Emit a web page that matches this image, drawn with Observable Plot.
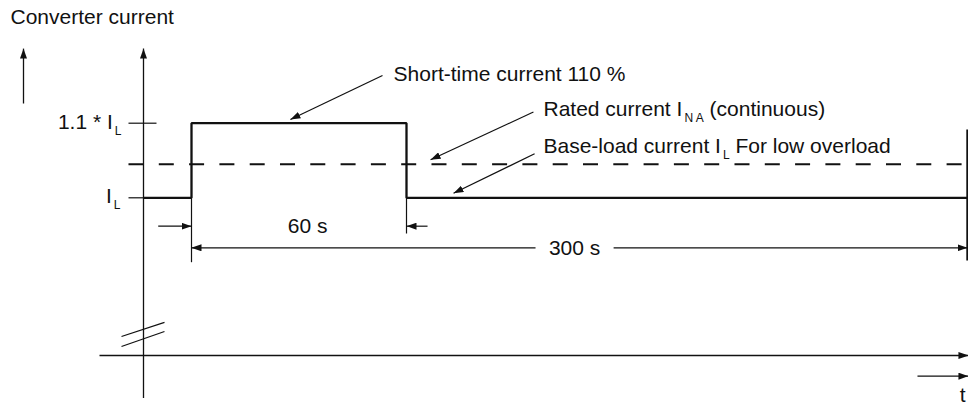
<!DOCTYPE html>
<html>
<head>
<meta charset="utf-8">
<script src="https://cdn.jsdelivr.net/npm/d3@7"></script>
<script src="https://cdn.jsdelivr.net/npm/@observablehq/plot@0.6"></script>
<style>
  html, body { margin: 0; padding: 0; background: #fff; }
  #chart { width: 968px; height: 406px; overflow: hidden; }
</style>
</head>
<body>
<div id="chart"></div>
<script>
// ---------- data (schematic, not to scale; time in s, current in multiples of I_L) ----------
const title = "Converter current";
const timeLabel = "t";

// reference levels on the current axis
const levelLabels = ["I_{L}", "1.1 * I_{L}"];
const levelValues = [1, 1.1];
const ratedValue = 1.045;              // rated current I_NA (dashed)

// load cycle profile
const profileT = [-15, 0, 0, 60, 60, 300];
const profileI = [1, 1, 1.1, 1.1, 1, 1];

// dimensioning
const dimLabels = ["60 s", "300 s"];
const dimFrom = [0, 0];
const dimTo = [60, 300];

// annotations
const noteTexts = [
  "Short-time current 110 %",
  "Rated current I_{N A} (continuous)",
  "Base-load current I_{L} For low overload"
];
const noteT = [56.4, 118.6, 118.6];
const noteI = [1.157, 1.109, 1.060];
const leaderFromT = [53.3, 114.3, 114.8];
const leaderFromI = [1.164, 1.115, 1.059];
const leaderToT = [27.6, 70.3, 80.1];
const leaderToI = [1.105, 1.051, 1.006];

// ---------- drawing ----------
const ink = "#111";
const font = "'Liberation Sans', Arial, Helvetica, sans-serif";

function head(color) {
  const m = d3.create("svg:marker")
    .attr("viewBox", "-10 -3.5 10 7")
    .attr("markerWidth", 10)
    .attr("markerHeight", 7)
    .attr("markerUnits", "userSpaceOnUse")
    .attr("orient", "auto")
    .attr("refX", 0)
    .attr("refY", 0)
    .attr("fill", color)
    .attr("stroke", "none");
  m.append("path").attr("d", "M0,0L-10,-3.5L-10,3.5Z");
  return m.node();
}

const yAxisT = profileT[0];
const profile = profileT.map((t, i) => ({t, i: profileI[i]}));

// helper link mark from arrays
function seg(x1, y1, x2, y2, opts) {
  return Plot.link(d3.range(x1.length), {
    x1: k => x1[k], y1: k => y1[k], x2: k => x2[k], y2: k => y2[k],
    stroke: ink, strokeLinecap: "butt", ...opts
  });
}

const plot = Plot.plot({
  width: 968,
  height: 406,
  margin: 0,
  style: {fontFamily: font, fontSize: "21px", color: ink, background: "#fff"},
  x: {type: "linear", domain: [-15, 0, 60, 300], range: [143, 191, 406, 967], axis: null},
  y: {type: "linear", domain: [0, 1, 1.1], range: [355, 197.3, 122.7], axis: null},
  marks: [
    // title and its arrow
    Plot.text([title], {x: -56.56, y: 1.2336, text: d => d, textAnchor: "start", lineAnchor: "bottom", fontSize: 21, fill: ink}),
    seg([-52.5], [1.1264], [-52.5], [1.2], {strokeWidth: 1.3, markerEnd: head}),

    // axes
    seg([yAxisT], [-0.27], [yAxisT], [1.2], {strokeWidth: 1.3, markerEnd: head}),
    seg([-28.75], [0], [300.4], [0], {strokeWidth: 1.3, markerEnd: head}),
    // axis break marks
    seg([-21.875, -21.875], [0.1205, 0.0571], [-8.44, -8.44], [0.2093, 0.1522], {strokeWidth: 1.3}),
    // time label and arrow
    seg([278.6], [-0.131], [300.4], [-0.131], {strokeWidth: 1.3, markerEnd: head}),
    Plot.text([timeLabel], {x: 297.9, y: -0.298, text: d => d, textAnchor: "middle", lineAnchor: "bottom", fill: ink}),

    // level ticks and labels
    seg([-19.69, -19.69], levelValues, [-15, -10.94], levelValues, {strokeWidth: 1.2}),
    Plot.text(d3.range(levelLabels.length), {
      x: [-22.19, -21.875], y: [0.9658, 1.0925], text: k => levelLabels[k],
      textAnchor: "end", lineAnchor: "bottom", fill: ink
    }),

    // rated current (dashed)
    seg([-19.69], [ratedValue], [299.6], [ratedValue], {strokeWidth: 2, strokeDasharray: "15,15.3"}),

    // load profile
    Plot.line(profile, {x: "t", y: "i", stroke: ink, strokeWidth: 2.3, strokeLinejoin: "miter", strokeLinecap: "butt"}),
    seg([dimTo[1]], [0.6024], [dimTo[1]], [1.0916], {strokeWidth: 2.4}),

    // extension lines
    seg([dimFrom[0], dimTo[0]], [1, 1], [dimFrom[0], dimTo[0]], [0.5916, 0.7736], {strokeWidth: 1.2}),

    // 60 s dimension (arrows from outside)
    seg([-10.4, 69], [0.82, 0.82], [dimFrom[0], dimTo[0]], [0.82, 0.82], {strokeWidth: 1.2, markerEnd: head}),
    // 300 s dimension (broken around label)
    seg([115.2, 148.6], [0.683, 0.683], [dimFrom[1], dimTo[1]], [0.683, 0.683], {strokeWidth: 1.2, markerEnd: head}),
    Plot.text(d3.range(dimLabels.length), {
      x: [32.4, 131.9], y: [0.778, 0.6386], text: k => dimLabels[k],
      textAnchor: "middle", lineAnchor: "bottom", fill: ink
    }),

    // annotations
    seg(leaderFromT, leaderFromI, leaderToT, leaderToI, {strokeWidth: 1.2, markerEnd: head}),
    Plot.text(d3.range(noteTexts.length), {
      x: k => noteT[k], y: k => noteI[k], text: k => noteTexts[k],
      textAnchor: "start", lineAnchor: "bottom", fill: ink
    })
  ]
});

// render subscripts written as _{...}
plot.querySelectorAll("text").forEach(el => {
  const s = el.textContent;
  if (!s.includes("_{")) return;
  el.textContent = "";
  const parts = s.split(/_\{([^}]*)\}/);
  let shifted = false;
  parts.forEach((p, k) => {
    const sub = k % 2 === 1;
    if (p === "" && !sub) return;
    const ts = document.createElementNS("http://www.w3.org/2000/svg", "tspan");
    ts.textContent = p;
    if (sub) {
      ts.setAttribute("font-size", "12");
      ts.setAttribute("dy", "6");
      ts.setAttribute("dx", "2");
      shifted = true;
    } else if (shifted) {
      ts.setAttribute("dy", "-6");
      shifted = false;
    }
    el.appendChild(ts);
  });
});

document.getElementById("chart").appendChild(plot);
</script>
</body>
</html>
